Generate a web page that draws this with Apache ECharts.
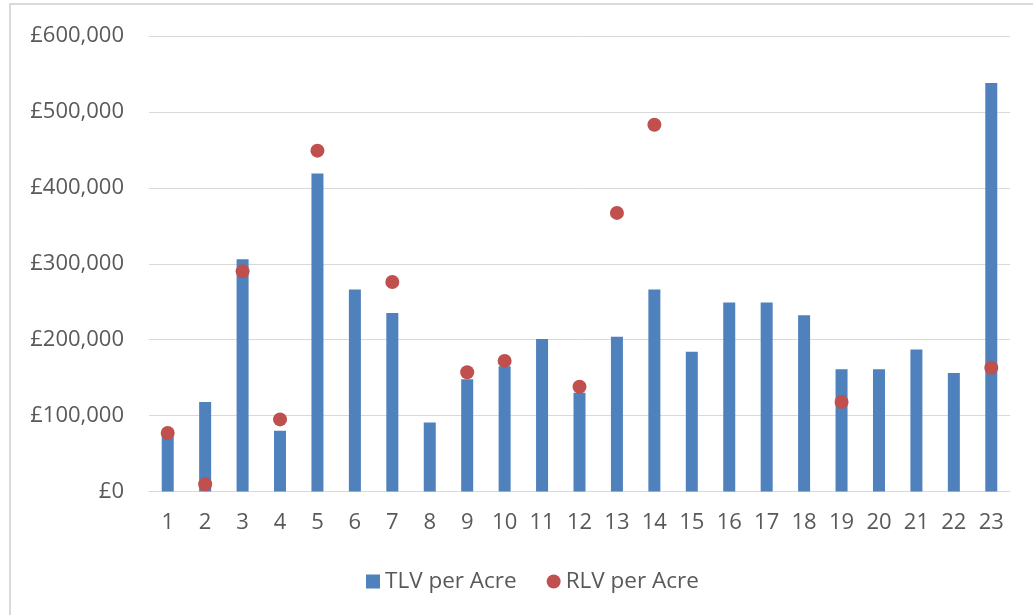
<!DOCTYPE html>
<html>
<head>
<meta charset="utf-8">
<script src="https://cdn.jsdelivr.net/npm/echarts@6/dist/echarts.min.js"></script>
<style>
  html, body { margin: 0; padding: 0; background: #ffffff; }
  #wrap { position: relative; width: 1033px; height: 615px; overflow: hidden; }
  #frame { position: absolute; left: 9px; top: 3px; right: -5px; bottom: -5px;
           border-top: 2px solid #d9d9d9; border-left: 2px solid #d9d9d9; }
  #chart { position: absolute; left: 0; top: 0; width: 1033px; height: 615px; }
</style>
</head>
<body>
<div id="wrap">
  <div id="frame"></div>
  <div id="chart"></div>
</div>
<script>
// Site numbers along the x axis
const categories = ['1','2','3','4','5','6','7','8','9','10','11','12','13','14','15','16','17','18','19','20','21','22','23'];

// Total land value per acre (£)
const tlvPerAcre = [72000, 118000, 306000, 80000, 419000, 266000, 235000, 91000, 148000, 165000,
                    201000, 130000, 204000, 266000, 184000, 249000, 249000, 232000, 161000, 161000,
                    187000, 156000, 538000];

// Residual land value per acre (£); null where no value exists
const rlvPerAcre = [77000, 9500, 290000, 95000, 449000, null, 276000, null, 157000, 172000,
                    null, 138000, 367000, 483000, null, null, null, null, 118000, null,
                    null, null, 163000];

// Value axis range and tick step
const yMin = 0;
const yMax = 600000;
const yStep = 100000;

function formatPounds(v) {
  const s = String(Math.round(v)).replace(/\B(?=(\d{3})+(?!\d))/g, ',');
  return '\u00a3' + s;
}

const textColor = '#595959';
const fontFamily = '"Open Sans", "Liberation Sans", sans-serif';

const chart = echarts.init(document.getElementById('chart'), null, { renderer: 'canvas' });
chart.setOption({
  animation: false,
  backgroundColor: 'transparent',
  textStyle: { fontFamily: fontFamily, color: textColor },
  grid: { left: 149, right: 23, top: 36, bottom: 123.5, containLabel: false },
  legend: {
    bottom: 17,
    left: 361,
    itemWidth: 14,
    itemHeight: 14,
    itemGap: 30,
    textStyle: { fontSize: 22.5, color: textColor, fontFamily: fontFamily },
    data: [
      { name: 'TLV per Acre', icon: 'rect' },
      { name: 'RLV per Acre', icon: 'circle' }
    ]
  },
  xAxis: {
    type: 'category',
    data: categories,
    boundaryGap: true,
    axisLine: { show: true, lineStyle: { color: '#d9d9d9', width: 1 } },
    axisTick: { show: false },
    axisLabel: { color: textColor, fontSize: 22, margin: 20, interval: 0, fontFamily: fontFamily }
  },
  yAxis: {
    type: 'value',
    min: yMin,
    max: yMax,
    interval: yStep,
    axisLine: { show: false },
    axisTick: { show: false },
    splitLine: { show: true, lineStyle: { color: '#d9d9d9', width: 1 } },
    axisLabel: { color: textColor, fontSize: 22, margin: 25, formatter: formatPounds, fontFamily: fontFamily }
  },
  series: [
    {
      name: 'TLV per Acre',
      type: 'bar',
      data: tlvPerAcre,
      barWidth: 12,
      itemStyle: { color: '#4f81bd' },
      z: 2
    },
    {
      name: 'RLV per Acre',
      type: 'scatter',
      data: rlvPerAcre,
      symbol: 'circle',
      symbolSize: 14,
      itemStyle: { color: '#c0504d', opacity: 1 },
      z: 3
    }
  ]
});
</script>
</body>
</html>
